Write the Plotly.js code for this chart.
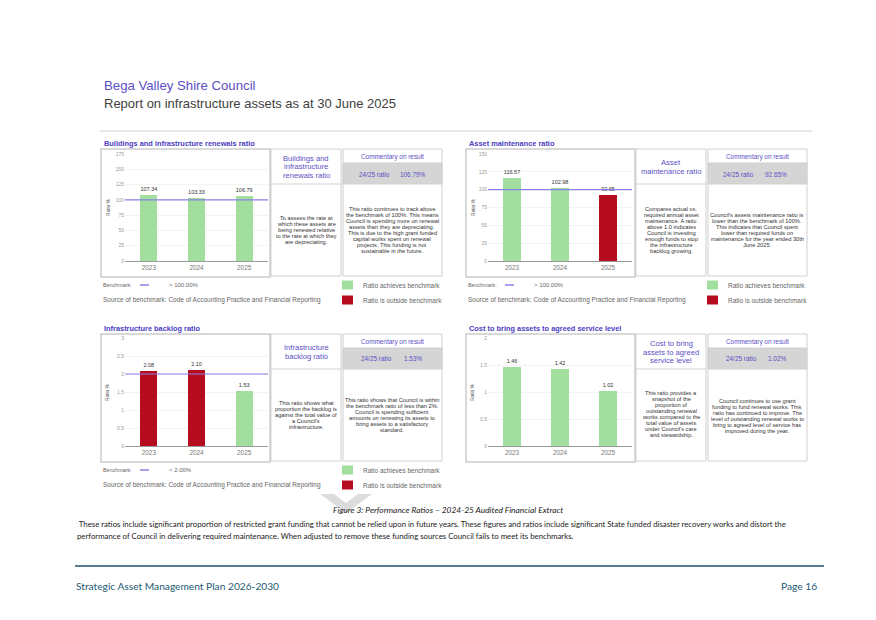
<!DOCTYPE html>
<html><head><meta charset="utf-8">
<script src="https://cdn.plot.ly/plotly-3.0.1.min.js"></script>
<style>html,body{margin:0;padding:0;background:#fff;}#chart{width:876px;height:620px;}</style>
</head><body><div id="chart"></div>
<script>
// ---- data ----
const years = ['2023', '2024', '2025'];
const renewalsRatio = [107.34, 103.33, 106.79];
const renewalsOk = [true, true, true];
const maintenanceRatio = [116.57, 102.98, 92.65];
const maintenanceOk = [true, true, false];
const backlogRatio = [2.08, 2.10, 1.53];
const backlogOk = [false, false, true];
const costRatio = [1.46, 1.42, 1.02];
const costOk = [true, true, true];
const renewalsTicks = [0, 25, 50, 75, 100, 125, 150, 175];
const maintenanceTicks = [0, 25, 50, 75, 100, 125, 150];
const backlogTicks = [0, 0.5, 1, 1.5, 2, 2.5, 3];
const costTicks = [0, 0.5, 1, 1.5, 2];
const renewalsBenchmark = 100;
const maintenanceBenchmark = 100;
const backlogBenchmark = 2;

// ---- styling ----
const W = 876, H = 620;
const X = p => p / W;
const Y = p => 1 - p / H;
const GREEN = '#a2df9f', RED = '#b50d1f', PURPLE = '#5a4fc4', BENCH = '#8a80e6';
const AF = 'Liberation Sans, Arial, sans-serif';
const CF = 'Lato, Open Sans, sans-serif';

const shapes = [];
const annotations = [];
function rect(x0, y0, x1, y1, color, width, fill) {
  shapes.push({type: 'rect', xref: 'paper', yref: 'paper', x0: X(x0), x1: X(x1), y0: Y(y1), y1: Y(y0),
    line: {color: color, width: width}, fillcolor: fill || 'rgba(0,0,0,0)', layer: 'below'});
}
function hline(x0, x1, y, color, width) {
  shapes.push({type: 'line', xref: 'paper', yref: 'paper', x0: X(x0), x1: X(x1), y0: Y(y), y1: Y(y),
    line: {color: color, width: width}});
}
function ann(text, x, y, size, color, opts) {
  annotations.push(Object.assign({text: text, xref: 'paper', yref: 'paper', x: X(x), y: Y(y),
    showarrow: false, font: {family: AF, size: size, color: color}, xanchor: 'center', yanchor: 'middle',
    align: 'center'}, opts || {}));
}
function lines(arr, x, yc, size, lead, color) {
  const n = arr.length;
  arr.forEach((t, i) => ann(t, x, yc + (i - (n - 1) / 2) * lead, size, color));
}

// page header
ann('Bega Valley Shire Council', 102, 85, 13.2, PURPLE, {xanchor: 'left'});
ann('Report on infrastructure assets as at 30 June 2025', 102, 104, 13, '#404040', {xanchor: 'left'});
hline(100, 812, 131, '#cfcfcf', 1);

// panels
function panel(cfg) {
  const t = cfg.top, b = cfg.bottom, L = cfg.left;
  ann('<b>' + cfg.title + '</b>', L + 1, t - 6, 7.4, '#4b40bf', {xanchor: 'left'});
  rect(L, t, L + 169, b, '#cccccc', 1.5);
  rect(L + 170, t, L + 240, b - 1, '#d0d0d0', 1);
  rect(L + 242, t, L + 341, b - 1, '#d0d0d0', 1);
  const hd = t + 35;
  hline(L + 170, L + 240, hd, '#d0d0d0', 1);
  rect(L + 242, t + 14, L + 341, hd, '#d0d0d0', 1, '#d5d5d5');
  lines(cfg.descTitle, L + 205, t + 18, 7.6, 8.2, PURPLE);
  lines(cfg.desc, L + 205, cfg.descY, 5.7, 6, '#333');
  ann('Commentary on result', L + 291, t + 8, 6.4, PURPLE);
  ann('24/25 ratio', L + cfg.rx1, t + 25, 6.4, PURPLE);
  ann(cfg.ratioText, L + cfg.rx2, t + 25, 6.4, PURPLE);
  lines(cfg.comm, L + 291, cfg.commY, 5.7, 5.9, '#333');
  ann('Ratio %', L + 7, cfg.plotMid, 4.8, '#555', {textangle: -90});
  if (cfg.bench) {
    const ly = b + 8;
    ann('Benchmark:', L, ly, 5.4, '#666', {xanchor: 'left'});
    hline(L + 39, L + 48, ly, BENCH, 1.5);
    ann(cfg.bench, L + 66, ly, 6, '#666', {xanchor: 'left'});
    ann('Source of benchmark: Code of Accounting Practice and Financial Reporting', L, ly + 15, 6.5, '#666', {xanchor: 'left'});
    rect(L + 241, ly - 4.5, L + 252, ly + 4.5, GREEN, 0, GREEN);
    rect(L + 241, ly + 10.5, L + 252, ly + 19.5, RED, 0, RED);
    ann('Ratio achieves benchmark', L + 260, ly, 6.5, '#666', {xanchor: 'left'});
    ann('Ratio is outside benchmark', L + 260, ly + 15, 6.5, '#666', {xanchor: 'left'});
  }
}

panel({left: 101, top: 149, bottom: 277, title: 'Buildings and infrastructure renewals ratio',
  descTitle: ['Buildings and', 'infrastructure', 'renewals ratio'],
  desc: ['To assess the rate at', 'which these assets are', 'being renewed relative', 'to the rate at which they', 'are depreciating.'], descY: 230,
  ratioText: '106.79%', rx1: 273, rx2: 312,
  comm: ['This ratio continues to track above', 'the benchmark of 100%. This means', 'Council is spending more on renewal', 'assets than they are depreciating.', 'This is due to the high grant funded', 'capital works spent on renewal', 'projects. This funding is not', 'sustainable in the future.'], commY: 230,
  plotMid: 207, bench: '> 100.00%'});
panel({left: 466, top: 149, bottom: 277, title: 'Asset maintenance ratio',
  descTitle: ['Asset', 'maintenance ratio'],
  desc: ['Compares actual vs.', 'required annual asset', 'maintenance. A ratio', 'above 1.0 indicates', 'Council is investing', 'enough funds to stop', 'the infrastructure', 'backlog growing.'], descY: 230,
  ratioText: '92.65%', rx1: 272, rx2: 310,
  comm: ['Council\'s assets maintenance ratio is', 'lower than the benchmark of 100%.', 'This indicates that Council spent', 'lower than required funds on', 'maintenance for the year ended 30th', 'June 2025.'], commY: 230,
  plotMid: 207, bench: '> 100.00%'});
panel({left: 101, top: 334, bottom: 462, title: 'Infrastructure backlog ratio',
  descTitle: ['Infrastructure', 'backlog ratio'],
  desc: ['This ratio shows what', 'proportion the backlog is', 'against the total value of', 'a Council\'s', 'infrastructure.'], descY: 415,
  ratioText: '1.53%', rx1: 275, rx2: 312,
  comm: ['This ratio shows that Council is within', 'the benchmark ratio of less than 2%.', 'Council is spending sufficient', 'amounts on renewing its assets to', 'bring assets to a satisfactory', 'standard.'], commY: 415,
  plotMid: 392, bench: '< 2.00%'});
panel({left: 466, top: 334, bottom: 462, title: 'Cost to bring assets to agreed service level',
  descTitle: ['Cost to bring', 'assets to agreed', 'service level'],
  desc: ['This ratio provides a', 'snapshot of the', 'proportion of', 'outstanding renewal', 'works compared to the', 'total value of assets', 'under Council\'s care', 'and stewardship.'], descY: 414,
  ratioText: '1.02%', rx1: 275, rx2: 311,
  comm: ['Council continues to use grant', 'funding to fund renewal works. This', 'ratio has continued to improve. The', 'level of outstanding renewal works to', 'bring to agreed level of service has', 'improved during the year.'], commY: 416,
  plotMid: 392, bench: null});

// benchmark lines through the axes' own scales
function benchLine(xr, yr, v) {
  shapes.push({type: 'line', xref: xr + ' domain', yref: yr, x0: 0, x1: 1, y0: v, y1: v,
    line: {color: BENCH, width: 1.2}, layer: 'above'});
}
benchLine('x', 'y', renewalsBenchmark);
benchLine('x2', 'y2', maintenanceBenchmark);
benchLine('x3', 'y3', backlogBenchmark);

// watermark chevron
const cp = [[320,494],[334,494],[346,503],[358,494],[372,494],[346,513]];
shapes.push({type: 'path', xref: 'paper', yref: 'paper', fillcolor: '#dcdcdc', line: {width: 0},
  path: 'M' + cp.map(p => X(p[0]) + ',' + Y(p[1])).join(' L') + ' Z', layer: 'below'});

// caption & paragraph
ann('<i>Figure 3: Performance Ratios – 2024-25 Audited Financial Extract</i>', 448, 510, 8.4, '#222', {font: {family: CF, size: 8.4, color: '#222'}});
ann(' These ratios include significant proportion of restricted grant funding that cannot be relied upon in future years. These figures and ratios include significant State funded disaster recovery works and distort the', 75, 524, 7.8, '#222', {xanchor: 'left', font: {family: CF, size: 7.8, color: '#222'}});
ann('performance of Council in delivering required maintenance. When adjusted to remove these funding sources Council fails to meet its benchmarks.', 75, 536, 7.8, '#222', {xanchor: 'left', font: {family: CF, size: 7.8, color: '#222'}});

// footer
hline(75, 824, 566, '#1f5068', 1.5);
ann('Strategic Asset Management Plan 2026-2030', 74, 586, 10.2, '#1d5a73', {xanchor: 'left', font: {family: CF, size: 10.2, color: '#1d5a73'}});
ann('Page 16', 819, 586, 10.2, '#1d5a73', {xanchor: 'right', font: {family: CF, size: 10.2, color: '#1d5a73'}});

function barTrace(vals, ok, xa, ya) {
  return {type: 'bar', x: years, y: vals, xaxis: xa, yaxis: ya,
    marker: {color: ok.map(o => o ? GREEN : RED)}, width: 0.36,
    texttemplate: '%{y:.2f}', textposition: 'outside', constraintext: 'none', cliponaxis: false,
    textfont: {family: AF, size: 5.5, color: '#333'}, hoverinfo: 'skip', showlegend: false};
}
const data = [
  barTrace(renewalsRatio, renewalsOk, 'x', 'y'),
  barTrace(maintenanceRatio, maintenanceOk, 'x2', 'y2'),
  barTrace(backlogRatio, backlogOk, 'x3', 'y3'),
  barTrace(costRatio, costOk, 'x4', 'y4')
];

function xax(d, a) {
  return {domain: d, anchor: a, type: 'category', range: [-0.5, 2.5], showline: true, linecolor: '#9a9a9a',
    linewidth: 1, showgrid: false, zeroline: false, ticks: '', fixedrange: true,
    tickfont: {family: AF, size: 6.4, color: '#777'}};
}
function yax(d, a, r, tv) {
  return {domain: d, anchor: a, range: r, tickvals: tv, showgrid: true, gridcolor: '#f3f3f3', zeroline: false,
    showline: false, ticks: '', fixedrange: true, tickfont: {family: AF, size: 5, color: '#999'}};
}
const layout = {
  width: W, height: H, margin: {l: 0, r: 0, t: 0, b: 0}, paper_bgcolor: '#fff', plot_bgcolor: 'rgba(0,0,0,0)',
  showlegend: false, bargap: 0,
  xaxis: xax([X(125), X(268)], 'y'),
  yaxis: yax([Y(261), Y(154)], 'x', [0, 175], renewalsTicks),
  xaxis2: xax([X(488), X(632)], 'y2'),
  yaxis2: yax([Y(261), Y(154)], 'x2', [0, 150], maintenanceTicks),
  xaxis3: xax([X(125), X(268)], 'y3'),
  yaxis3: yax([Y(446), Y(338)], 'x3', [0, 3], backlogTicks),
  xaxis4: xax([X(488), X(632)], 'y4'),
  yaxis4: yax([Y(446), Y(338)], 'x4', [0, 2], costTicks),
  shapes: shapes, annotations: annotations
};
Plotly.newPlot('chart', data, layout, {displayModeBar: false, staticPlot: true});
</script></body></html>
